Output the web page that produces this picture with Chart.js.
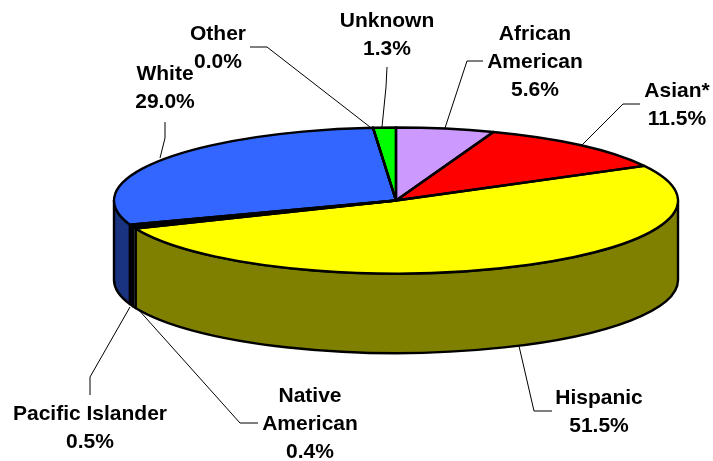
<!DOCTYPE html>
<html>
<head>
<meta charset="utf-8">
<style>html,body{margin:0;padding:0;background:#fff}canvas{display:block}</style>
<script src="https://cdn.jsdelivr.net/npm/chart.js@4"></script>
</head>
<body>
<canvas id="c" width="713" height="461"></canvas>
<script>
const categories = ["African American","Asian*","Hispanic","Native American","Pacific Islander","White","Other","Unknown"];
const values = [5.6,11.5,51.5,0.4,0.5,29.0,0.0,1.3];
const topColors = ["#CC99FF","#FF0000","#FFFF00","#CCFFFF","#000033","#3366FF","#FFFFFF","#00FF00"];
const wallColors = ["#664C80","#800000","#808000","#8FC0C0","#00001A","#193380","#808080","#008000"];
const labelLines = [["African","American"],["Asian*"],["Hispanic"],["Native","American"],["Pacific Islander"],["White"],["Other"],["Unknown"]];

const pieX = 396, pieY = 200.5, pieR = 282, squash = 0.2589, depth = 79.5;
const labelCentres = [[535,34],[677,91],[599,398],[310,396],[90,414],[165,74],[218,34],[387,21]];
const leaders = [
  [[483,61],[467,61],[445,128]],
  [[640,104],[623,104],[582,145]],
  [[552,411],[534,411],[519,346]],
  [[258,423],[240,423],[137,308]],
  [[90,395],[90,377],[130,307]],
  [[165,122],[165,138],[160,158]],
  [[250,47],[267,47],[370,127]],
  [[387,67],[386,87],[382,127]]
];

const pie3d = {
  id: 'pie3d',
  beforeDatasetsDraw(chart) {
    const ctx = chart.ctx, arcs = chart.getDatasetMeta(0).data;
    const cx = arcs[0].x, cy = arcs[0].y, r = arcs[0].outerRadius, ry = r * squash;
    ctx.save();
    ctx.lineWidth = 2.4; ctx.strokeStyle = '#000'; ctx.lineJoin = 'round';
    arcs.forEach((a, i) => {
      const s = Math.max(a.startAngle, 0), e = Math.min(a.endAngle, Math.PI);
      if (e <= s) return;
      ctx.beginPath();
      ctx.ellipse(cx, cy, r, ry, 0, s, e);
      ctx.ellipse(cx, cy + depth, r, ry, 0, e, s, true);
      ctx.closePath();
      ctx.fillStyle = wallColors[i];
      ctx.fill();
      ctx.stroke();
    });
    ctx.restore();
    ctx.save();
    ctx.translate(cx, cy); ctx.scale(1, squash); ctx.translate(-cx, -cy);
  },
  afterDatasetsDraw(chart) {
    const ctx = chart.ctx, arcs = chart.getDatasetMeta(0).data;
    ctx.restore();
    const cx = arcs[0].x, cy = arcs[0].y, r = arcs[0].outerRadius, ry = r * squash;
    ctx.save();
    ctx.lineWidth = 2.4; ctx.strokeStyle = '#000'; ctx.lineJoin = 'round';
    arcs.forEach(a => {
      ctx.beginPath();
      ctx.moveTo(cx, cy);
      ctx.ellipse(cx, cy, r, ry, 0, a.startAngle, a.endAngle);
      ctx.closePath();
      ctx.stroke();
    });
    ctx.restore();
    ctx.save();
    ctx.lineWidth = 1; ctx.strokeStyle = '#000';
    leaders.forEach(l => {
      ctx.beginPath();
      l.forEach((p, i) => i ? ctx.lineTo(p[0], p[1]) : ctx.moveTo(p[0], p[1]));
      ctx.stroke();
    });
    ctx.fillStyle = '#000';
    ctx.font = 'bold 21px "Liberation Sans"';
    ctx.textAlign = 'center'; ctx.textBaseline = 'middle';
    categories.forEach((c, i) => {
      const lines = labelLines[i].concat(values[i].toFixed(1) + '%');
      lines.forEach((t, j) => ctx.fillText(t, labelCentres[i][0], labelCentres[i][1] + j * 28.3));
    });
    ctx.restore();
  }
};

new Chart(document.getElementById('c').getContext('2d'), {
  type: 'pie',
  data: {
    labels: categories,
    datasets: [{ data: values, backgroundColor: topColors, borderWidth: 0, radius: pieR, clip: false }]
  },
  options: {
    responsive: false,
    animation: false,
    devicePixelRatio: 1,
    layout: { padding: { left: (pieX - 356.5) * 2, bottom: (230.5 - pieY) * 2 } },
    plugins: { legend: { display: false }, tooltip: { enabled: false } }
  },
  plugins: [pie3d]
});
</script>
</body>
</html>
